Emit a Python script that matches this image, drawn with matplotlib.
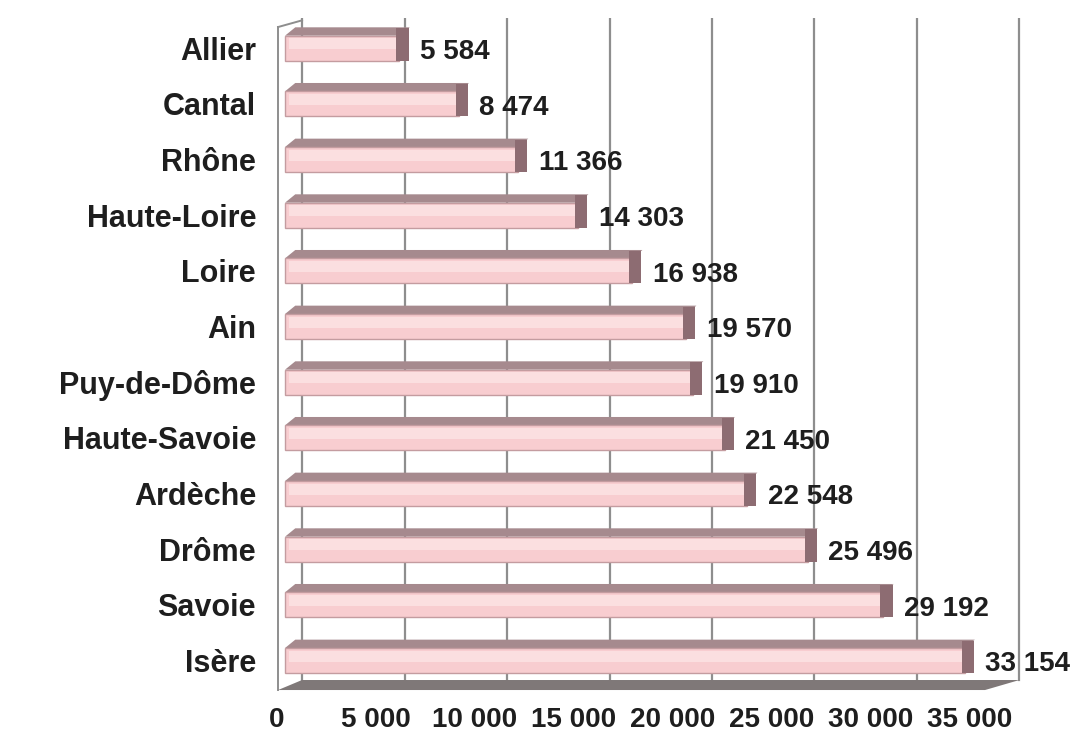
import numpy as np
import matplotlib.pyplot as plt
from matplotlib.patches import Rectangle, Polygon

# Data (top to bottom as in the chart)
departements = ['Allier', 'Cantal', 'Rhône', 'Haute-Loire', 'Loire', 'Ain',
                'Puy-de-Dôme', 'Haute-Savoie', 'Ardèche', 'Drôme', 'Savoie', 'Isère']
valeurs = [5584, 8474, 11366, 14303, 16938, 19570,
           19910, 21450, 22548, 25496, 29192, 33154]
value_labels = ['5 584', '8 474', '11 366', '14 303', '16 938', '19 570',
                '19 910', '21 450', '22 548', '25 496', '29 192', '33 154']
xticks = [0, 5000, 10000, 15000, 20000, 25000, 30000, 35000]
xtick_labels = ['0', '5 000', '10 000', '15 000', '20 000', '25 000', '30 000', '35 000']

plt.rcParams['font.family'] = ['Liberation Sans', 'DejaVu Sans']

fig = plt.figure(figsize=(10.81, 7.43), dpi=100)
ax = fig.add_axes([0.2523, 0.0686, 0.6978, 0.907])

n = len(departements)
ypos = np.arange(n)[::-1]
depth = 830      # back wall offset (3D look)
wall_x = -340    # front-left edge of the wall
xmax = 35000

ax.set_xlim(-600, 36200)
ax.set_ylim(-0.566, n - 1 + 0.54)

grid_c = '#8e8e8e'
# back wall gridlines
for t in xticks:
    ax.plot([t + depth, t + depth], [-0.35, n - 1 + 0.54], color=grid_c, lw=1.6, zorder=1)
# left wall edge
ax.plot([wall_x, wall_x], [-0.53, n - 1 + 0.38], color=grid_c, lw=1.4, zorder=1)
ax.plot([wall_x, depth], [n - 1 + 0.38, n - 1 + 0.5], color=grid_c, lw=1.4, zorder=1)
# floor
ax.add_patch(Polygon([(wall_x, -0.53), (34150, -0.53), (xmax + depth, -0.35), (depth, -0.35)],
                     closed=True, facecolor='#7f7878', edgecolor='none', zorder=1))

h = 0.45
top = 0.15
for y, v, lab in zip(ypos, valeurs, value_labels):
    # top face of bar
    ax.add_patch(Polygon([(0, y + h / 2), (v, y + h / 2), (v + 500, y + h / 2 + top),
                          (500, y + h / 2 + top)], closed=True,
                         facecolor='#a68a8e', edgecolor='none', zorder=2))
    # front face
    ax.add_patch(Rectangle((0, y - h / 2), v, h, facecolor='#f8cdd0',
                           edgecolor='#c49ca0', lw=1, zorder=3))
    ax.add_patch(Rectangle((200, y - 0.02), v - 250, h / 2 - 0.03, facecolor='#fbdfe0',
                           edgecolor='none', zorder=3))
    # right end cap
    ax.add_patch(Rectangle((v - 150, y - h / 2), 600, h + top - 0.02, facecolor='#8d6c72',
                           edgecolor='none', zorder=4))
    ax.text(v + 1000, y - 0.07, lab, va='center', ha='left', fontsize=20,
            fontweight='bold', color='#1e1e1e', zorder=5)

ax.set_yticks(ypos)
ax.set_yticklabels(departements, fontsize=22, fontweight='bold', color='#1e1e1e')
# tick labels follow the front edge perspective
ax.set_xticks([t * 0.966 - 390 for t in xticks])
ax.set_xticklabels(xtick_labels, fontsize=20, fontweight='bold', color='#1e1e1e')
ax.tick_params(axis='both', length=0)
ax.tick_params(axis='x', pad=11)
ax.tick_params(axis='y', pad=12)
for s in ax.spines.values():
    s.set_visible(False)

fig.savefig('out.png', dpi=100)
